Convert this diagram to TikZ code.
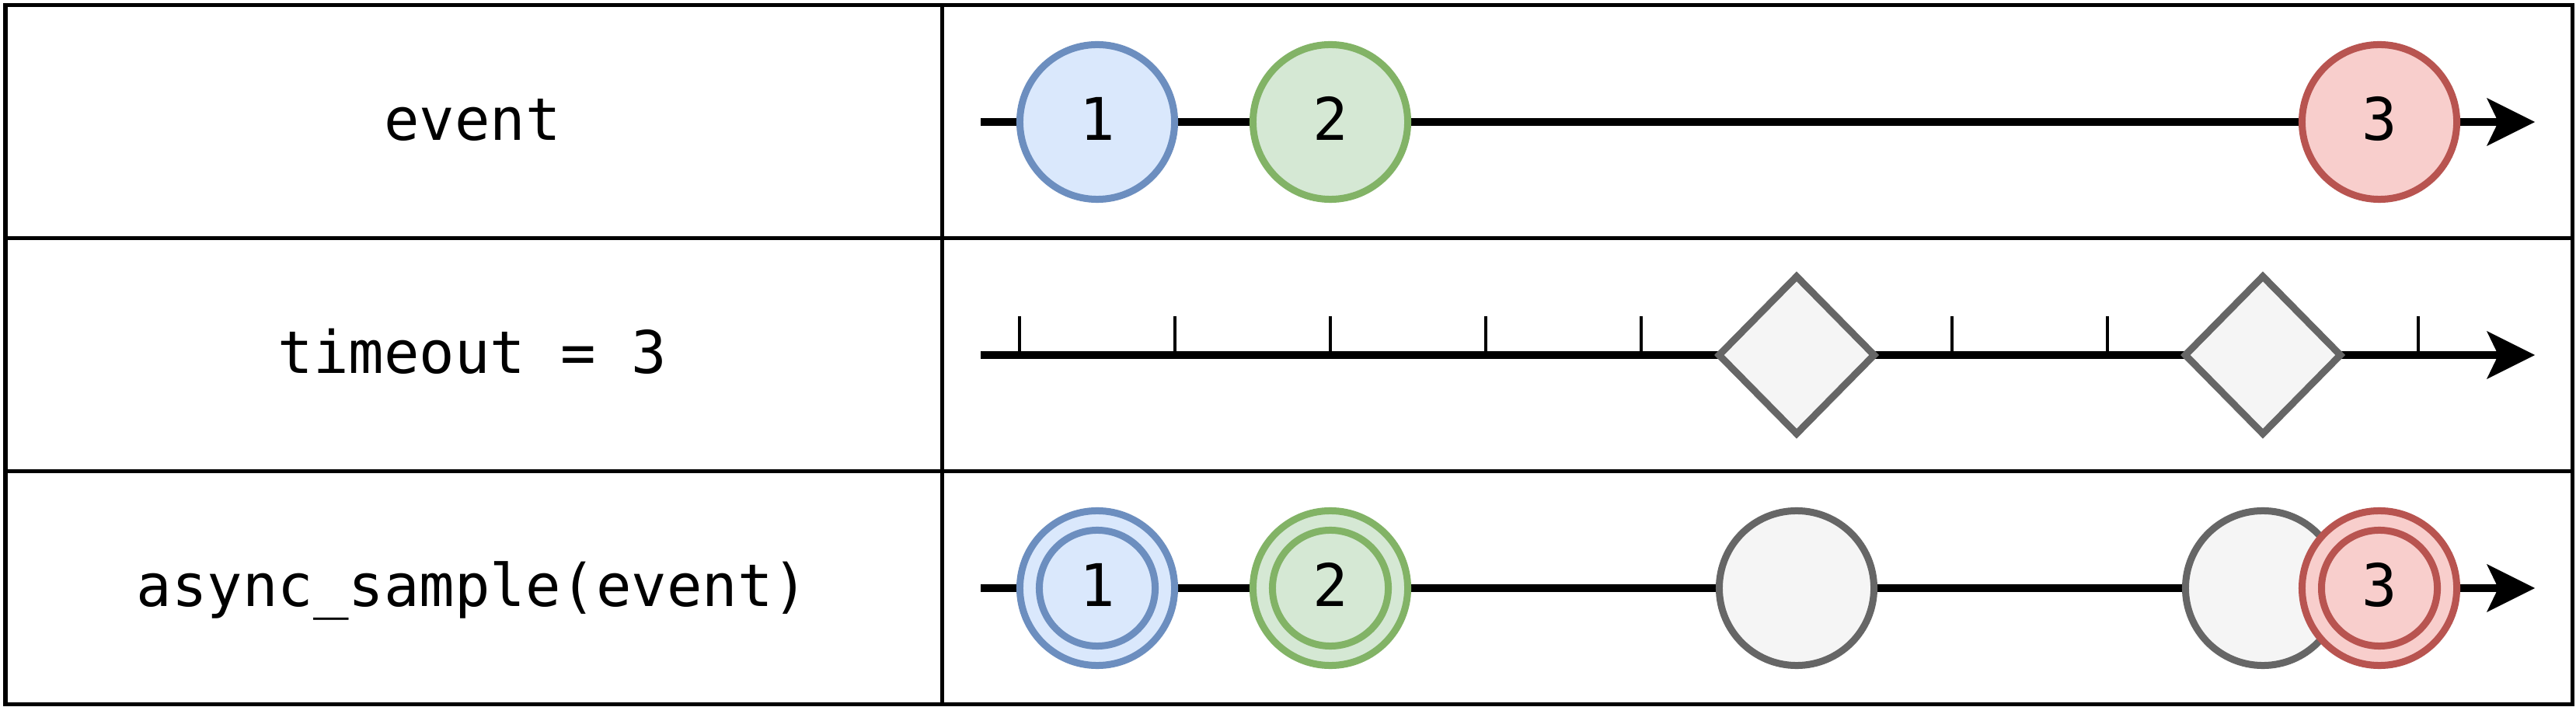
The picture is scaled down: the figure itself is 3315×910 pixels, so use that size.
\documentclass[tikz,border=0pt]{standalone}
\usepackage{fontspec}
\newfontfamily\dejamono{DejaVu Sans Mono}
\usetikzlibrary{arrows.meta,shapes.geometric}
\definecolor{blueline}{HTML}{6C8EBF}
\definecolor{bluefill}{HTML}{DAE8FC}
\definecolor{greenline}{HTML}{82B366}
\definecolor{greenfill}{HTML}{D5E8D4}
\definecolor{redline}{HTML}{B85450}
\definecolor{redfill}{HTML}{F8CECC}
\definecolor{grayline}{HTML}{666666}
\definecolor{grayfill}{HTML}{F5F5F5}
\tikzset{
  gridline/.style={line width=0.05cm, line cap=rect},
  timeline/.style={line width=0.1cm, -{Stealth[length=0.62cm,width=0.62cm,inset=0.15cm,line width=0pt]}},
  tickmark/.style={line width=0.04cm},
  lbl/.style={font=\dejamono\fontsize{21.5}{26}\selectfont, anchor=base, inner sep=0pt},
  ev/.style={circle, line width=0.09cm, minimum size=1.99cm, inner sep=0pt,
    font=\dejamono\fontsize{21.5}{26}\selectfont, text height=0.56cm, text depth=0.10cm},
  ring/.style={circle, line width=0.09cm, minimum size=1.49cm, inner sep=0pt},
  evblue/.style={ev, draw=blueline, fill=bluefill},
  evgreen/.style={ev, draw=greenline, fill=greenfill},
  evred/.style={ev, draw=redline, fill=redfill},
  evgray/.style={ev, draw=grayline, fill=grayfill},
  diam/.style={diamond, draw=grayline, fill=grayfill, line width=0.09cm,
    minimum width=2.03cm, minimum height=2.06cm, inner sep=0pt}
}
\begin{document}
\begin{tikzpicture}[x=0.01cm,y=-0.01cm]
\useasboundingbox (0,0) rectangle (3315,910);
\fill[white] (0,0) rectangle (3315,910);

% table
\draw[gridline] (7,7) rectangle (3310,906);
\draw[gridline] (7,307) -- (3310,307);
\draw[gridline] (7,607) -- (3310,607);
\draw[gridline] (1212,7) -- (1212,906);

% labels
\node[lbl] (l1) at (608,181) {event};
\node[lbl] (l2) at (608,481) {timeout = 3};
\node[lbl] (l3) at (608,781) {async\_sample(event)};

% row 1
\coordinate (s1) at (1262,157);
\coordinate (e1) at (3262,157);
\draw[timeline] (s1) -- (e1);
\node[evblue] (a1) at (1412,157) {1};
\node[evgreen] (a2) at (1712,157) {2};
\node[evred] (a3) at (3062,157) {3};

% row 2
\coordinate (s2) at (1262,457);
\coordinate (e2) at (3262,457);
\draw[timeline] (s2) -- (e2);
\foreach \k in {0,1,2,3,4,6,7,9}{
  \draw[tickmark] (1312+200*\k,457) -- (1312+200*\k,407);
}
\node[diam] (d1) at (2312,457) {};
\node[diam] (d2) at (2912,457) {};

% row 3
\coordinate (s3) at (1262,757);
\coordinate (e3) at (3262,757);
\draw[timeline] (s3) -- (e3);
\node[evblue] (c1) at (1412,757) {1};
\node[ring, draw=blueline] (c1r) at (c1.center) {};
\node[evgreen] (c2) at (1712,757) {2};
\node[ring, draw=greenline] (c2r) at (c2.center) {};
\node[evgray] (g1) at (2312,757) {};
\node[evgray] (g2) at (2912,757) {};
\node[evred] (c3) at (3062,757) {3};
\node[ring, draw=redline] (c3r) at (c3.center) {};
\end{tikzpicture}
\end{document}
